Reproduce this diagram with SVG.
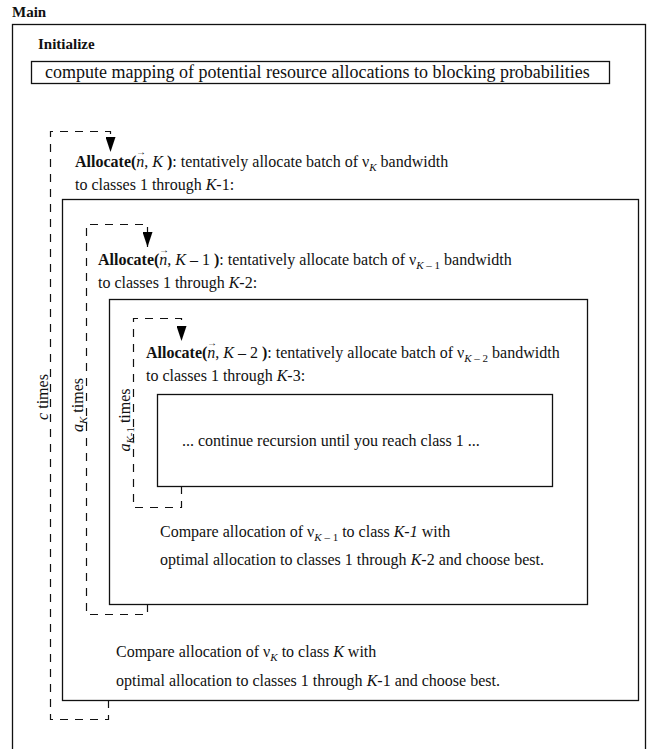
<svg xmlns="http://www.w3.org/2000/svg" width="650" height="749" viewBox="0 0 650 749">
<defs>
<marker id="ah" markerWidth="15" markerHeight="10" refX="15" refY="5" orient="auto" markerUnits="userSpaceOnUse" viewBox="0 0 15 10">
<path d="M0,0 L15,5 L0,10 Z" fill="#000"/>
</marker>
</defs>
<style>
text{font-family:"Liberation Serif","Times New Roman",serif;font-size:16px;fill:#111}
.h{font-size:15px;font-weight:bold}
.b{font-weight:bold}
.i{font-style:italic}
.sub{font-size:11px;font-style:italic}
.vec{font-size:10px}
.box{fill:none;stroke:#111;stroke-width:1.3}
.loop{fill:none;stroke:#111;stroke-width:1.2;stroke-dasharray:8 7}
</style>
<rect width="650" height="749" fill="#fff"/>
<g id="main">
<text class="h" x="12" y="17">Main</text>
<rect class="box" x="12.5" y="24.5" width="633" height="740"/>
</g>
<g id="initialize">
<text class="h" x="38" y="49">Initialize</text>
<rect class="box" x="31.5" y="61.5" width="578" height="22"/>
<text x="45" y="78" style="font-size:18px">compute mapping of potential resource allocations to blocking probabilities</text>
</g>
<g id="allocateK">
<text x="75" y="167"><tspan class="b">Allocate(</tspan><tspan class="i">n</tspan>, <tspan class="i">K</tspan><tspan class="b"> )</tspan>: tentatively allocate batch of ν<tspan class="sub" dy="4">K</tspan><tspan dy="-4">  bandwidth</tspan></text>
<text class="vec" x="136" y="155">→</text>
<text x="75" y="190">to classes 1 through <tspan class="i">K</tspan>-1:</text>
<rect class="box" x="62.5" y="199.5" width="576" height="501"/>
<text x="116" y="657">Compare allocation of ν<tspan class="sub" dy="4">K</tspan><tspan dy="-4"> to class </tspan><tspan class="i">K</tspan> with</text>
<text x="116" y="686">optimal allocation to classes 1 through <tspan class="i">K</tspan>-1 and choose best.</text>
</g>
<g id="allocateK1">
<text x="98" y="265"><tspan class="b">Allocate(</tspan><tspan class="i">n</tspan>, <tspan class="i">K</tspan> – 1<tspan class="b"> )</tspan>: tentatively allocate batch of ν<tspan class="sub" dy="4">K</tspan><tspan dy="0" style="font-size:11px"> – 1</tspan><tspan dy="-4">  bandwidth</tspan></text>
<text class="vec" x="159" y="253">→</text>
<text x="98" y="288">to classes 1 through <tspan class="i">K</tspan>-2:</text>
<rect class="box" x="109.5" y="299.5" width="478" height="305"/>
<text x="160" y="537">Compare allocation of ν<tspan class="sub" dy="4">K</tspan><tspan dy="0" style="font-size:11px"> – 1</tspan><tspan dy="-4"> to class </tspan><tspan class="i">K-1</tspan> with</text>
<text x="160" y="565">optimal allocation to classes 1 through <tspan class="i">K</tspan>-2 and choose best.</text>
</g>
<g id="allocateK2">
<text x="146" y="358"><tspan class="b">Allocate(</tspan><tspan class="i">n</tspan>, <tspan class="i">K</tspan> – 2<tspan class="b"> )</tspan>: tentatively allocate batch of ν<tspan class="sub" dy="4">K</tspan><tspan dy="0" style="font-size:11px"> – 2</tspan><tspan dy="-4">  bandwidth</tspan></text>
<text class="vec" x="207" y="346">→</text>
<text x="146" y="381">to classes 1 through <tspan class="i">K</tspan>-3:</text>
<rect class="box" x="157.5" y="394.5" width="395" height="92"/>
<text x="182" y="446">... continue recursion until you reach class 1 ...</text>
</g>
<g id="connectors">
<path class="loop" d="M108.5,700 V719.5 H50.5 V131.5 H110.5 V152" marker-end="url(#ah)"/>
<path class="loop" d="M147.5,604 V614.5 H86.5 V224.5 H147.5 V247" marker-end="url(#ah)"/>
<path class="loop" d="M181.5,486 V507.5 H133.5 V318.5 H181.5 V341" marker-end="url(#ah)"/>
</g>
<g id="labels">
<text transform="translate(48,397) rotate(-90)" text-anchor="middle"><tspan class="i">c</tspan> times</text>
<text transform="translate(83,405) rotate(-90)" text-anchor="middle"><tspan class="i">a</tspan><tspan class="sub" dy="4">K</tspan><tspan dy="-4"> times</tspan></text>
<text transform="translate(130,420) rotate(-90)" text-anchor="middle"><tspan class="i">a</tspan><tspan class="sub" dy="4">K</tspan><tspan dy="0" style="font-size:11px">-1</tspan><tspan dy="-4"> times</tspan></text>
</g>
</svg>
